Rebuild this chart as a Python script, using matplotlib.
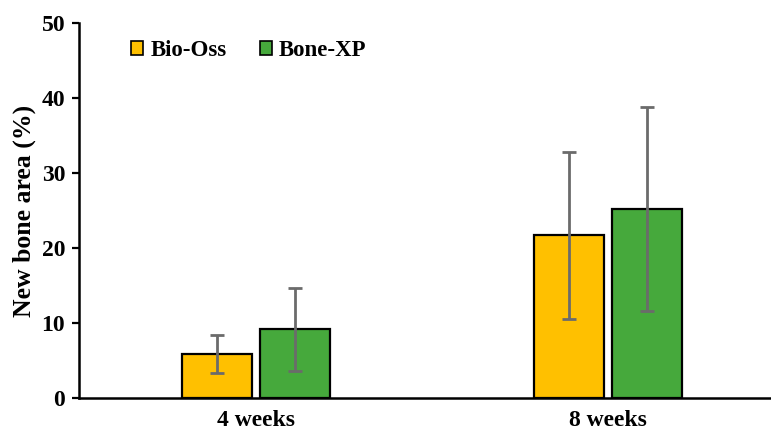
import matplotlib
matplotlib.use("Agg")
import matplotlib.pyplot as plt
import numpy as np

categories = ["4 weeks", "8 weeks"]
series_names = ["Bio-Oss", "Bone-XP"]
bio_oss = [5.85, 21.7]
bio_oss_err = [2.55, 11.1]
bone_xp = [9.15, 25.2]
bone_xp_err = [5.5, 13.6]
y_ticks = [0, 10, 20, 30, 40, 50]

colors = ["#FFC000", "#46A93C"]
font = "Liberation Serif"

fig = plt.figure(figsize=(7.71, 4.34), dpi=100)
ax = fig.add_axes([79/771, 1-398/434, 1-79/771, (398-23)/434])

x = np.arange(len(categories))
w = 0.199
off = 0.111
for vals, errs, c, name, o in [(bio_oss, bio_oss_err, colors[0], series_names[0], -off),
                               (bone_xp, bone_xp_err, colors[1], series_names[1], off)]:
    ax.bar(x + o, vals, w, color=c, edgecolor="black", linewidth=1.6, label=name, zorder=2)
    ax.errorbar(x + o, vals, yerr=errs, fmt="none", ecolor="#6b6b6b", elinewidth=2,
                capsize=5, capthick=2, zorder=3)

ax.set_xlim(-0.503, 1.463)
ax.set_ylim(0, 50)
ax.set_yticks(y_ticks)
ax.set_xticks(x)
ax.set_xticklabels(categories)
for s in ["top", "right"]:
    ax.spines[s].set_visible(False)
for s in ["left", "bottom"]:
    ax.spines[s].set_linewidth(1.8)
ax.tick_params(axis="y", direction="out", length=5, width=1.6, pad=5)
ax.tick_params(axis="x", length=0, pad=9)
for lab in ax.get_xticklabels() + ax.get_yticklabels():
    lab.set_fontfamily(font)
    lab.set_fontweight("bold")
    lab.set_fontsize(17)
ax.set_ylabel("New bone area (%)", fontfamily=font, fontweight="bold", fontsize=18.5, labelpad=4)

leg = ax.legend(loc="upper left", ncol=2, frameon=False, bbox_to_anchor=(0.045, 1.01),
                prop={"family": font, "weight": "bold", "size": 16.5},
                handlelength=0.55, handleheight=0.55, handletextpad=0.3, columnspacing=1.45)
for h in leg.legend_handles:
    h.set_linewidth(1.2)

fig.savefig("out.png", dpi=100)
